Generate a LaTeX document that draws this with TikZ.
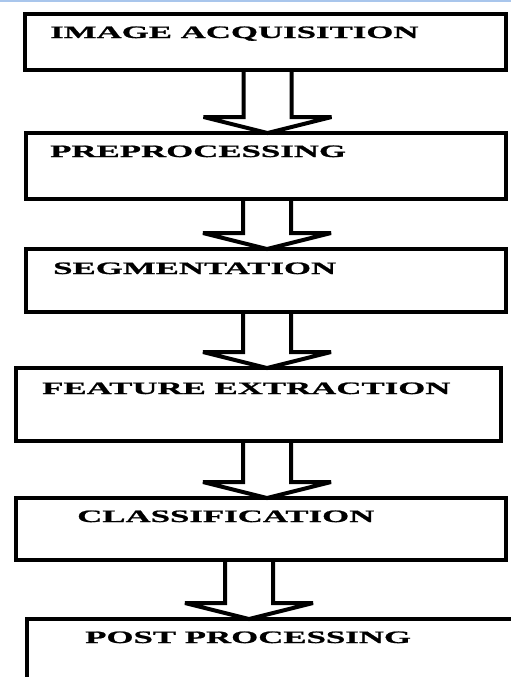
\documentclass[tikz,border=0pt]{standalone}
\usepackage{fontspec}
\usetikzlibrary{calc}
\newfontfamily\stagefont[FakeStretch=2.0,FakeBold=1.2]{Liberation Serif}
\definecolor{topline}{RGB}{169,198,236}
% hollow block arrow: #1 from box, #2 to box, #3 centre x
\newcommand{\flowarrow}[3]{%
  \draw[hollow] let \p1=(#1.south), \p2=(#2.north) in
    ({#3pt-24pt},{\y1+2pt}) -- ({#3pt-24pt},{\y2+14pt}) -- ({#3pt-64pt},{\y2+14pt})
    -- ({#3pt},{\y2-2pt}) -- ({#3pt+64pt},{\y2+14pt}) -- ({#3pt+24pt},{\y2+14pt})
    -- ({#3pt+24pt},{\y1+2pt});}

\begin{document}
\begin{tikzpicture}[x=1pt,y=1pt]
\tikzstyle{stage}=[draw,rectangle,line width=4pt,inner sep=0pt]
\tikzstyle{caption}=[anchor=base west,inner sep=0pt,font=\stagefont\fontsize{17.4}{20}\selectfont\bfseries]
\tikzstyle{hollow}=[draw,line width=4pt,miter limit=4]
\useasboundingbox (0,0) rectangle (511,-677);
\fill[topline] (0,0) rectangle (511,-2);
    \node[stage,minimum width=481pt,minimum height=56pt] (acq) at (265.5,-42) {};
    \node[stage,minimum width=480pt,minimum height=66pt] (pre) at (266,-166) {};
    \node[stage,minimum width=480pt,minimum height=63pt] (seg) at (266,-280.5) {};
    \node[stage,minimum width=485pt,minimum height=73pt] (feat) at (258.5,-404.5) {};
    \node[stage,minimum width=490pt,minimum height=62pt] (cls) at (261,-529) {};
    \node[stage,minimum width=513pt,minimum height=91pt] (post) at (283.5,-664.5) {};
    \node[caption] (acqtext) at (50,-38) {IMAGE ACQUISITION};
    \node[caption] (pretext) at (50,-157) {PREPROCESSING};
    \node[caption] (segtext) at (53,-274) {SEGMENTATION};
    \node[caption] (feattext) at (42,-394) {FEATURE EXTRACTION};
    \node[caption] (clstext) at (77,-522) {CLASSIFICATION};
    \node[caption] (posttext) at (85,-643) {POST PROCESSING};
    \flowarrow{acq}{pre}{267.5}
    \flowarrow{pre}{seg}{267}
    \flowarrow{seg}{feat}{267}
    \flowarrow{feat}{cls}{267}
    \flowarrow{cls}{post}{249}
\end{tikzpicture}
\end{document}
